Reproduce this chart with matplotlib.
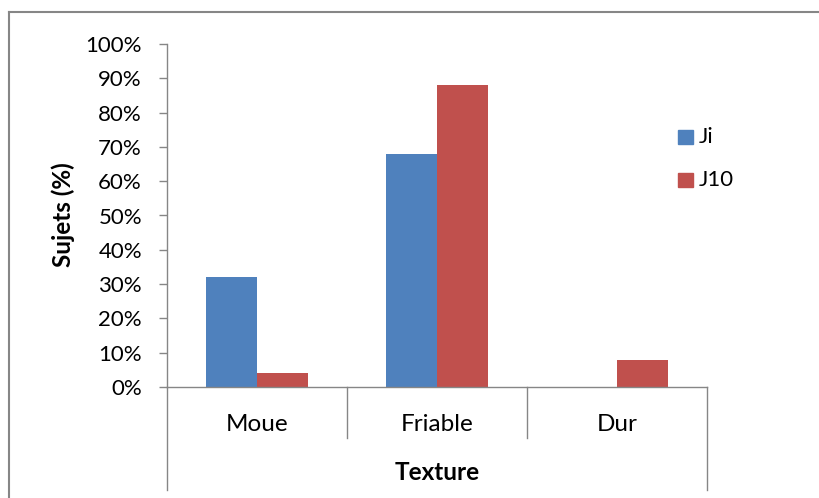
import matplotlib
matplotlib.use("Agg")
import matplotlib.pyplot as plt
from matplotlib.lines import Line2D
from matplotlib.patches import Rectangle
import numpy as np

categories = ["Moue", "Friable", "Dur"]
series_names = ["Ji", "J10"]
ji_values = [0.32, 0.68, 0.0]
j10_values = [0.04, 0.88, 0.08]
ytick_labels = ["0%", "10%", "20%", "30%", "40%", "50%", "60%", "70%", "80%", "90%", "100%"]
x_title = "Texture"
y_title = "Sujets (%)"

colors = ["#4F81BD", "#C0504D"]
gray = "#868686"
plt.rcParams['font.family'] = ['Lato', 'DejaVu Sans']

W, H = 820, 498
fig = plt.figure(figsize=(W / 100, H / 100), dpi=100)
fig.patch.set_facecolor("white")

# chart border (left and top visible)
fig.add_artist(Line2D([9 / W, 9 / W], [0, 1 - 12 / H], transform=fig.transFigure, color=gray, lw=1.5))
fig.add_artist(Line2D([9 / W, 1], [1 - 12 / H, 1 - 12 / H], transform=fig.transFigure, color=gray, lw=1.5))

ax_l, ax_r, ax_t, ax_b = 167, 707, 44, 387
ax = fig.add_axes([ax_l / W, 1 - ax_b / H, (ax_r - ax_l) / W, (ax_b - ax_t) / H])

x = np.arange(len(categories))
bw = 1 / 3.5
ax.bar(x - bw / 2, ji_values, width=bw, color=colors[0], label=series_names[0])
ax.bar(x + bw / 2, j10_values, width=bw, color=colors[1], label=series_names[1])

ax.set_xlim(-0.5, len(categories) - 0.5)
ax.set_ylim(0, 1)
ax.set_yticks(np.linspace(0, 1, 11))
ax.set_yticklabels(ytick_labels, fontsize=16)
ax.tick_params(axis='y', direction='out', length=6, width=1, color=gray, pad=12)
ax.set_xticks([])
for s in ["top", "right"]:
    ax.spines[s].set_visible(False)
for s in ["left", "bottom"]:
    ax.spines[s].set_color(gray)
    ax.spines[s].set_linewidth(1)

# category separators / multi-level axis lines
h_axes = ax_b - ax_t
short = -(438 - ax_b) / h_axes
long = -(490 - ax_b) / h_axes
for xs, yb in [(0, long), (1 / 3, short), (2 / 3, short), (1, long)]:
    ax.add_line(Line2D([xs, xs], [0, yb], transform=ax.transAxes, color=gray, lw=1, clip_on=False))

for i, c in enumerate(categories):
    ax.text((i + 0.5) / 3, -(424 - ax_b) / h_axes, c, transform=ax.transAxes,
            ha="center", va="center", fontsize=17.5)
ax.text(0.5, -(472 - ax_b) / h_axes, x_title, transform=ax.transAxes,
        ha="center", va="center", fontsize=17.5, fontweight="bold")
fig.text(63 / W, 1 - 215 / H, y_title, rotation=90, ha="center", va="center",
         fontsize=17.5, fontweight="bold")

# legend
for i, (name, col) in enumerate(zip(series_names, colors)):
    yc = 137 + i * 43
    fig.add_artist(Rectangle((678 / W, 1 - (yc + 7) / H), 15 / W, 14 / H,
                             transform=fig.transFigure, color=col))
    fig.text(699 / W, 1 - yc / H, name, ha="left", va="center", fontsize=16)

fig.savefig("out.png", dpi=100, facecolor="white")
